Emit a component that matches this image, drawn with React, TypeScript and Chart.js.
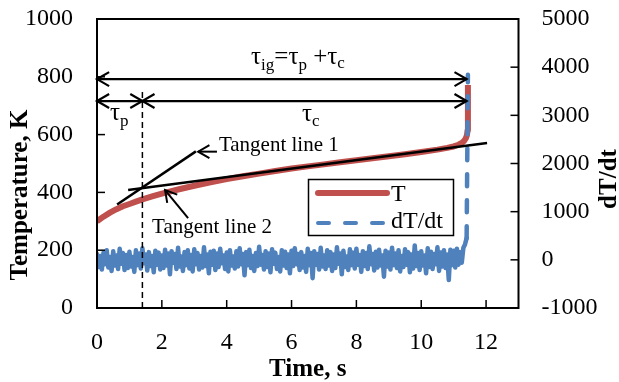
import { useEffect, useRef } from "react";
import { Chart, registerables } from "chart.js";
Chart.register(...registerables);

const FONT = '"Liberation Serif", "Times New Roman", serif';

// Temperature curve T (K) vs time (s)
const timeT = [0, 0.2, 0.4, 0.6, 0.8, 1.0, 1.2, 1.4, 1.7, 2.0, 2.5, 3.0, 3.5, 4.0, 4.5, 5.0, 5.5, 6.0, 6.5, 7.0, 7.5, 8.0, 8.5, 9.0, 9.5, 10.0, 10.5, 10.8, 11.0, 11.15, 11.25, 11.32, 11.37, 11.41, 11.43, 11.44];
const tempT = [300, 316, 330, 342, 352, 360, 368, 376, 386, 396, 410, 423, 435, 446, 456, 465, 474, 483, 490, 497, 504, 511, 518, 525, 532, 540, 548, 554, 559, 565, 571, 578, 586, 598, 615, 772];

// dT/dt sampled every 0.05 s from t = 0 to 11.4 s
const dTdtStart = 0;
const dTdtInterval = 0.05;
const dTdtValues = [
  120, -150, 80, -200, 150, -90, 200, -160, 60, -230, 180, -120, 90, -190, 230, -80, 140, -210, 100, -170,
  170, -140, 60, -250, 200, -110, 130, -180, 240, -70, 110, -220, 160, -130, 80, -260, 190, -100, 150, -200,
  90, -170, 210, -120, 130, -300, 180, -60, 120, -190, 250, -140, 70, -230, 160, -110, 200, -180, 100, -240,
  220, -90, 140, -200, 80, -160, 260, -130, 110, -280, 170, -100, 190, -210, 130, -150, 230, -70, 90, -190,
  150, -240, 200, -120, 70, -180, 180, -140, 240, -90, 120, -320, 160, -110, 210, -170, 80, -230, 140, -130,
  270, -100, 100, -200, 180, -150, 130, -260, 220, -80, 150, -190, 60, -240, 200, -120, 170, -170, 110, -280,
  190, -130, 240, -90, 120, -210, 160, -160, 80, -250, 230, -110, 140, -380, 180, -100, 120, -200, 250, -140,
  90, -190, 200, -120, 160, -230, 110, -170, 260, -80, 130, -300, 190, -150, 70, -210, 220, -110, 150, -180,
  230, -100, 100, -250, 180, -130, 140, -190, 280, -90, 120, -220, 170, -160, 210, -120, 90, -350, 190, -140,
  150, -200, 250, -110, 130, -170, 200, -240, 80, -150, 220, -100, 160, -260, 110, -180, 300, -130, 140, -210,
  180, -120, 90, -280, 240, -150, 170, -190, 120, -90, 260, -230, 150, -140, 200, -170, 110, -420, 210, -110,
  190, -160, 230, -100, 160, -60, 250, 320, 450,
];
// Ignition spike of dT/dt
const spikeTime = [11.44];
const spikeValue = [3840];

// Tangent lines (time, T)
const tangent1Time = [0.62, 3.05];
const tangent1Temp = [358, 542];
const tangent2Time = [0.96, 12.03];
const tangent2Temp = [408, 571];

// Characteristic times
const tauP = 1.4;
const tauIg = 11.4;
const tauLineTop = 760;

const xTickValues = [0, 2, 4, 6, 8, 10, 12];

function drawArrow(ctx: CanvasRenderingContext2D, x1: number, y1: number, x2: number, y2: number, headStart: boolean, headEnd: boolean, len = 14, ang = Math.PI / 6) {
  ctx.beginPath();
  ctx.moveTo(x1, y1);
  ctx.lineTo(x2, y2);
  ctx.stroke();
  const th = Math.atan2(y2 - y1, x2 - x1);
  const head = (x: number, y: number, dir: number) => {
    ctx.beginPath();
    ctx.moveTo(x - len * Math.cos(dir - ang), y - len * Math.sin(dir - ang));
    ctx.lineTo(x, y);
    ctx.lineTo(x - len * Math.cos(dir + ang), y - len * Math.sin(dir + ang));
    ctx.stroke();
  };
  if (headEnd) head(x2, y2, th);
  if (headStart) head(x1, y1, th + Math.PI);
}

type Run = { text: string; size: number; dy: number };
function drawRuns(ctx: CanvasRenderingContext2D, x: number, y: number, runs: Run[]) {
  ctx.textAlign = "left";
  ctx.textBaseline = "alphabetic";
  let cx = x;
  for (const r of runs) {
    ctx.font = `${r.size}px ${FONT}`;
    ctx.fillText(r.text, cx, y + r.dy);
    cx += ctx.measureText(r.text).width;
  }
}

const decor = {
  id: "decor",
  afterDraw(chart: any) {
    const ctx: CanvasRenderingContext2D = chart.ctx;
    const { left, right, top, bottom } = chart.chartArea;
    const xs = chart.scales.x, ys = chart.scales.y, y2 = chart.scales.y2;
    const X = (v: number) => xs.getPixelForValue(v);
    const Y = (v: number) => ys.getPixelForValue(v);
    ctx.save();
    ctx.strokeStyle = "#000";
    ctx.fillStyle = "#000";
    ctx.lineCap = "butt";
    ctx.lineJoin = "miter";
    // frame
    ctx.lineWidth = 2;
    ctx.strokeRect(left, top, right - left, bottom - top);
    // tick marks (inside)
    ctx.lineWidth = 1.5;
    const seg = (a: number, b: number, c: number, d: number) => { ctx.beginPath(); ctx.moveTo(a, b); ctx.lineTo(c, d); ctx.stroke(); };
    xs.ticks.forEach((t: any) => { const p = xs.getPixelForValue(t.value); seg(p, bottom, p, bottom - 8); });
    ys.ticks.forEach((t: any) => { const p = ys.getPixelForValue(t.value); seg(left, p, left + 8, p); });
    y2.ticks.forEach((t: any) => { const p = y2.getPixelForValue(t.value); seg(right, p, right - 8, p); });

    // arrows
    ctx.lineWidth = 2.2;
    drawArrow(ctx, X(0), Y(792), X(tauIg), Y(792), true, true);
    drawArrow(ctx, X(0), Y(716), X(tauP), Y(716), true, true);
    drawArrow(ctx, X(tauP), Y(716), X(tauIg), Y(716), true, true);
    // tangent label arrows
    ctx.lineWidth = 2;
    drawArrow(ctx, X(3.70), Y(541), X(3.12), Y(541), false, true, 13);
    drawArrow(ctx, X(2.81), Y(311), X(2.10), Y(408), false, true, 13);

    // labels
    drawRuns(ctx, X(4.75), Y(844), [
      { text: "τ", size: 25, dy: 0 }, { text: "ig", size: 17, dy: 6 }, { text: "=τ", size: 25, dy: 0 },
      { text: "p", size: 17, dy: 6 }, { text: " +τ", size: 25, dy: 0 }, { text: "c", size: 17, dy: 4 },
    ]);
    drawRuns(ctx, X(0.40), Y(650), [{ text: "τ", size: 25, dy: 0 }, { text: "p", size: 17, dy: 6 }]);
    drawRuns(ctx, X(6.32), Y(647), [{ text: "τ", size: 25, dy: 0 }, { text: "c", size: 17, dy: 5 }]);
    ctx.font = `21px ${FONT}`;
    ctx.fillText("Tangent line 1", X(3.76), Y(543));
    ctx.fillText("Tangent line 2", X(1.70), Y(260));

    // legend
    ctx.lineWidth = 1.5;
    ctx.strokeRect(308.5, 179.5, 145, 56);
    ctx.lineCap = "round";
    ctx.strokeStyle = "#C0504D";
    ctx.lineWidth = 6;
    seg(318, 193, 387, 193);
    ctx.strokeStyle = "#4F81BD";
    ctx.lineWidth = 4;
    ctx.setLineDash([11, 16]);
    seg(318, 223, 387, 223);
    ctx.setLineDash([]);
    ctx.lineCap = "butt";
    ctx.font = `24px ${FONT}`;
    ctx.textAlign = "left";
    ctx.fillText("T", 391, 201);
    ctx.fillText("dT/dt", 391, 228);

    // axis titles
    ctx.font = `bold 25px ${FONT}`;
    ctx.textAlign = "center";
    ctx.textBaseline = "alphabetic";
    ctx.fillText("Time, s", (left + right) / 2, 376);
    ctx.save();
    ctx.translate(27, 195);
    ctx.rotate(-Math.PI / 2);
    ctx.fillText("Temperature, K", 0, 0);
    ctx.restore();
    ctx.save();
    ctx.translate(616, 179);
    ctx.rotate(-Math.PI / 2);
    ctx.fillText("dT/dt", 0, 0);
    ctx.restore();
    ctx.restore();
  },
};

export default function App() {
  const ref = useRef<HTMLCanvasElement | null>(null);
  useEffect(() => {
    if (!ref.current) return;
    const tData = timeT.map((t, i) => ({ x: t, y: tempT[i] }));
    const dData = dTdtValues.map((v, i) => ({ x: dTdtStart + i * dTdtInterval, y: v }));
    spikeTime.forEach((t, i) => dData.push({ x: t, y: spikeValue[i] }));
    const tan1 = tangent1Time.map((t, i) => ({ x: t, y: tangent1Temp[i] }));
    const tan2 = tangent2Time.map((t, i) => ({ x: t, y: tangent2Temp[i] }));
    const tauLine = [{ x: tauP, y: 0 }, { x: tauP, y: tauLineTop }];
    const tickFont = { family: FONT, size: 24 };
    const plain = (v: any) => String(v);
    const chart = new Chart(ref.current, {
      type: "line",
      data: {
        datasets: [
          { label: "tau_p", data: tauLine, yAxisID: "y", borderColor: "#000", borderWidth: 1.5, borderDash: [6, 4], pointRadius: 0, tension: 0 },
          { label: "Tangent 1", data: tan1, yAxisID: "y", borderColor: "#000", borderWidth: 2.5, pointRadius: 0, tension: 0 },
          { label: "Tangent 2", data: tan2, yAxisID: "y", borderColor: "#000", borderWidth: 2.5, pointRadius: 0, tension: 0 },
          {
            label: "dT/dt", data: dData, yAxisID: "y2", borderColor: "#4F81BD", borderWidth: 4.5, pointRadius: 0, tension: 0,
            borderCapStyle: "round", borderJoinStyle: "round",
            segment: { borderDash: (c: any) => (c.p1.parsed.x > 11.41 ? [12, 14] : undefined) },
          },
          { label: "T", data: tData, yAxisID: "y", borderColor: "#C0504D", borderWidth: 6, pointRadius: 0, tension: 0, borderJoinStyle: "round" },
        ],
      },
      options: {
        responsive: false,
        animation: false,
        parsing: false as any,
        layout: { padding: 0 },
        plugins: { legend: { display: false }, tooltip: { enabled: false } },
        scales: {
          x: {
            type: "linear", position: "bottom", min: 0, max: 13,
            afterBuildTicks: (s: any) => { s.ticks = xTickValues.map((v) => ({ value: v })); },
            afterFit: (s: any) => { s.height = 74; },
            ticks: { font: tickFont, color: "#000", padding: 20, maxRotation: 0, autoSkip: false, callback: plain },
            grid: { display: false, drawTicks: false }, border: { display: false },
          },
          y: {
            type: "linear", position: "left", min: 0, max: 1000,
            afterFit: (s: any) => { s.width = 97; s.paddingTop = 19; },
            ticks: { stepSize: 200, font: tickFont, color: "#000", padding: 24, callback: plain },
            grid: { display: false, drawTicks: false }, border: { display: false },
          },
          y2: {
            type: "linear", position: "right", min: -1000, max: 5000,
            afterFit: (s: any) => { s.width = 100.5; s.paddingTop = 19; },
            ticks: { stepSize: 1000, font: tickFont, color: "#000", padding: 23, callback: plain },
            grid: { display: false, drawTicks: false }, border: { display: false },
          },
        },
      },
      plugins: [decor],
    });
    return () => chart.destroy();
  }, []);
  return (
    <div style={{ position: "absolute", left: 0, top: 0, width: 619, height: 382, background: "#fff" }}>
      <canvas ref={ref} width={619} height={382} />
    </div>
  );
}
